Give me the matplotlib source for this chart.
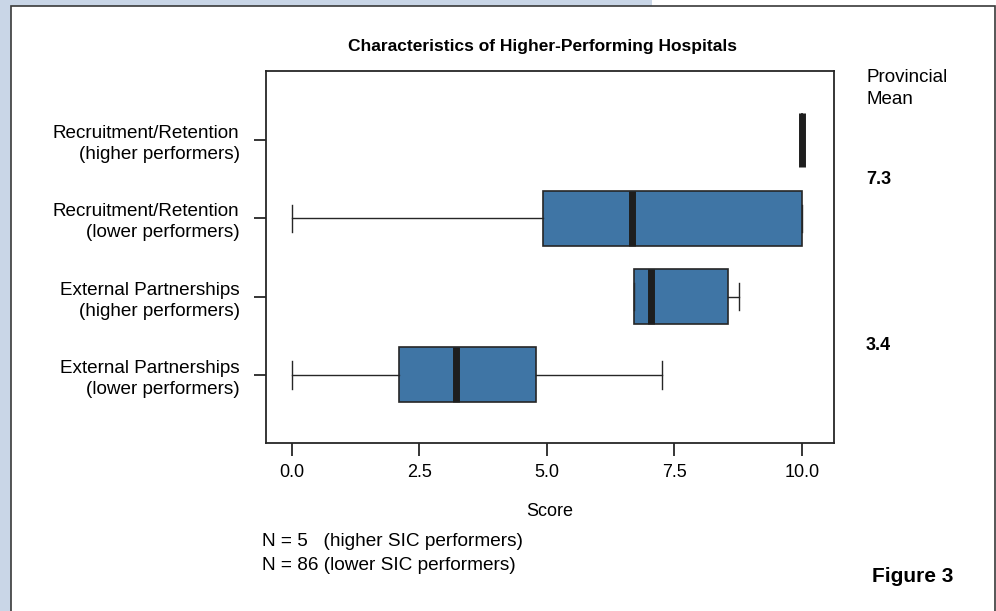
import matplotlib
matplotlib.use("Agg")
import matplotlib.pyplot as plt
from matplotlib.patches import Rectangle

# Box summaries, listed bottom row first
categories = [
    "External Partnerships\n(lower performers)",
    "External Partnerships\n(higher performers)",
    "Recruitment/Retention\n(lower performers)",
    "Recruitment/Retention\n(higher performers)",
]
whisker_low = [0.0, 6.71, 0.0, 10.0]
quartile_1 = [2.10, 6.71, 4.93, 10.0]
medians = [3.21, 7.05, 6.66, 10.0]
quartile_3 = [4.78, 8.56, 10.0, 10.0]
whisker_high = [7.25, 8.76, 10.0, 10.0]

x_ticks = [0.0, 2.5, 5.0, 7.5, 10.0]
provincial_means = ["3.4", "7.3"]  # External Partnerships, Recruitment/Retention
sample_notes = ["N = 5   (higher SIC performers)", "N = 86 (lower SIC performers)"]

plt.rcParams["font.family"] = ["Liberation Sans", "DejaVu Sans"]
FS = 13
DARK = "#262626"
BOX_BLUE = "#3f75a5"

W, H = 996, 611
fig = plt.figure(figsize=(W / 100, H / 100), dpi=100)
fig.patch.set_facecolor("white")

# page background: tinted strip at left and top, white framed panel
fig.patches.append(Rectangle((0, 0), 652 / W, 1, transform=fig.transFigure,
                             facecolor="#c9d6e7", edgecolor="none", zorder=0))
fig.patches.append(Rectangle((11 / W, -0.05), (995 - 11) / W, 1.05 - 6 / H,
                             transform=fig.transFigure, facecolor="white",
                             edgecolor="#3a3a3a", linewidth=1.2, zorder=1))

ax = fig.add_axes([266 / W, 1 - 443 / H, (834 - 266) / W, (443 - 71) / H])
ax.set_zorder(2)

stats = []
for i in range(len(categories)):
    stats.append(dict(whislo=whisker_low[i], q1=quartile_1[i], med=medians[i],
                      q3=quartile_3[i], whishi=whisker_high[i], fliers=[]))

positions = list(range(len(categories)))
ax.bxp(stats, positions=positions, widths=0.7, vert=False, patch_artist=True,
       showfliers=False,
       boxprops=dict(facecolor=BOX_BLUE, edgecolor=DARK, linewidth=1.2),
       medianprops=dict(color="#1e1e1e", linewidth=5, solid_capstyle="butt"),
       whiskerprops=dict(color=DARK, linewidth=1.0),
       capprops=dict(color=DARK, linewidth=1.0),
       capwidths=0.35)

ax.set_xlim(-0.51, 10.63)
ax.set_ylim(-0.87, 3.88)
ax.set_xticks(x_ticks)
ax.set_xticklabels([f"{v:.1f}" for v in x_ticks], fontsize=FS)
ax.set_yticks(positions)
ax.set_yticklabels(categories, fontsize=13.6, linespacing=1.32)
ax.tick_params(axis="both", length=9, width=1.3, color=DARK)
ax.tick_params(axis="x", pad=6)
ax.tick_params(axis="y", pad=10)
for side in ax.spines.values():
    side.set_linewidth(1.3)
    side.set_color(DARK)

ax.set_xlabel("Score", fontsize=FS, labelpad=16)

fig.text(542 / W, 1 - 46 / H, "Characteristics of Higher-Performing Hospitals",
         fontsize=12.5, fontweight="bold", ha="center", va="center", zorder=3)

fig.text(866 / W, 1 - 88.5 / H, "Provincial\nMean", fontsize=13.5,
         ha="left", va="center", linespacing=1.45, zorder=3)
mean_rows = [0.38, 2.5]
for label, row in zip(provincial_means, mean_rows):
    ax.annotate(label, xy=(866 / W, row), xycoords=("figure fraction", "data"),
                fontsize=13, fontweight="bold",
                ha="left", va="center", annotation_clip=False)

for k, note in enumerate(sample_notes):
    fig.text(262 / W, 1 - (541 + 24 * k) / H, note, fontsize=13.7,
             ha="left", va="center", zorder=3)

fig.text(913 / W, 1 - 577 / H, "Figure 3", fontsize=15, fontweight="bold",
         ha="center", va="center", zorder=3)

fig.savefig("out.png", dpi=100)
